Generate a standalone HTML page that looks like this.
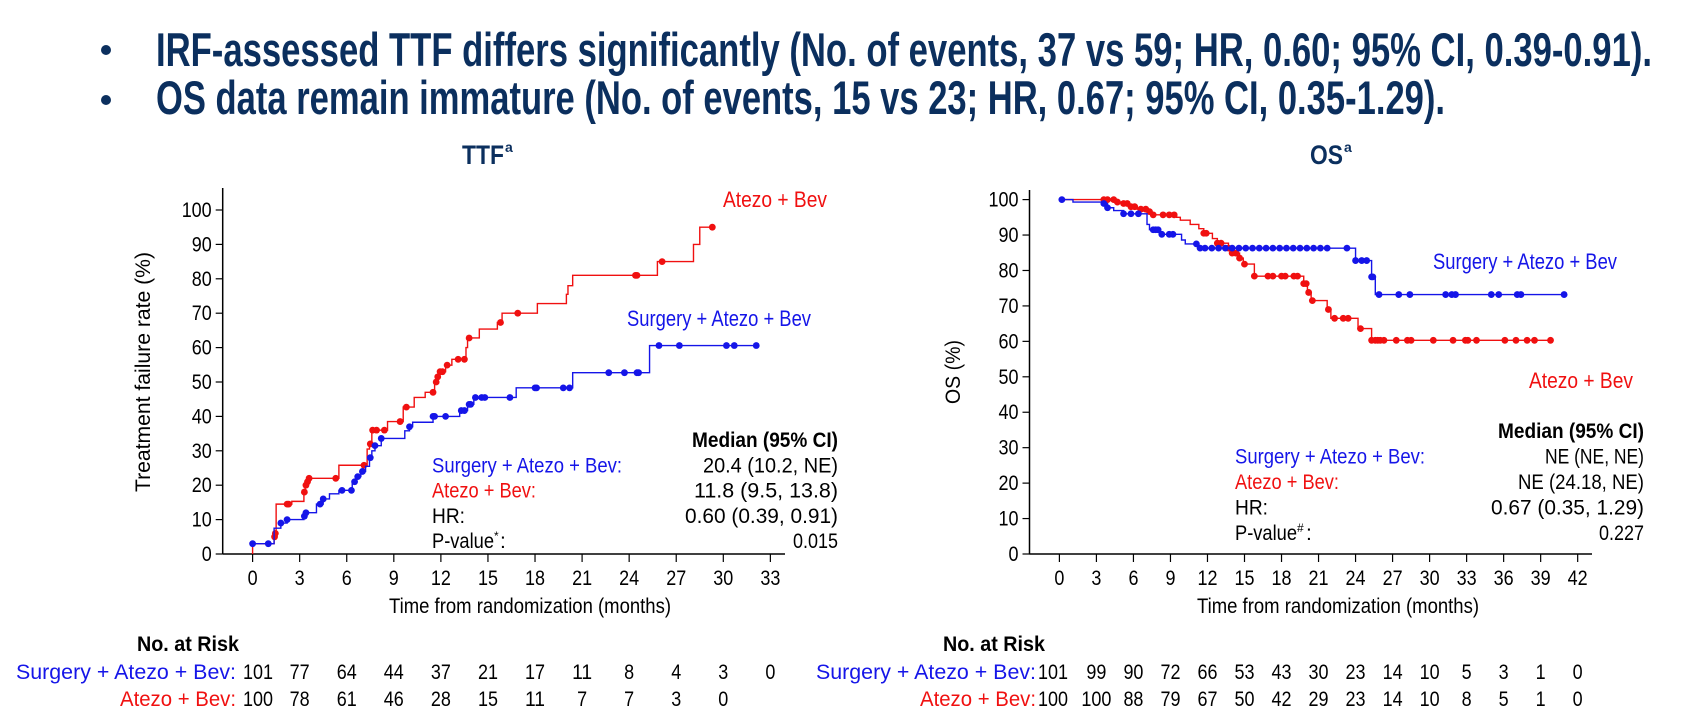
<!DOCTYPE html>
<html><head><meta charset="utf-8"><style>
html,body{margin:0;padding:0;background:#fff;}
svg{display:block;font-family:"Liberation Sans",Arial,sans-serif;}
</style></head><body>
<svg id="s" width="1686" height="710" viewBox="0 0 1686 710" xmlns="http://www.w3.org/2000/svg">
<g fill="#0b2f5e" font-weight="bold">
<circle cx="106" cy="50" r="5"/>
<circle cx="106" cy="100" r="5"/>
<text x="156" y="66" font-size="47" textLength="1496" lengthAdjust="spacingAndGlyphs">IRF-assessed TTF differs significantly (No. of events, 37 vs 59; HR, 0.60; 95% CI, 0.39-0.91).</text>
<text x="156" y="114" font-size="47" textLength="1289" lengthAdjust="spacingAndGlyphs">OS data remain immature (No. of events, 15 vs 23; HR, 0.67; 95% CI, 0.35-1.29).</text>
<text x="462" y="164" font-size="27" textLength="42" lengthAdjust="spacingAndGlyphs">TTF</text>
<text x="505" y="152" font-size="14">a</text>
<text x="1310" y="164" font-size="27" textLength="33" lengthAdjust="spacingAndGlyphs">OS</text>
<text x="1344" y="152" font-size="14">a</text>
</g>
<g id="g"></g>
</svg>
<script>
var NS="http://www.w3.org/2000/svg",G=document.getElementById('g');
function el(t,a,txt){var e=document.createElementNS(NS,t);for(var k in a)e.setAttribute(k,a[k]);if(txt!==undefined)e.textContent=txt;G.appendChild(e);return e;}
function txt(x,y,s,o){o=o||{};var a={x:x,y:y,'font-size':o.fs||18,fill:o.fill||'#000'};if(o.anchor)a['text-anchor']=o.anchor;if(o.w){a.textLength=o.w;a.lengthAdjust='spacingAndGlyphs';}if(o.bold)a['font-weight']='bold';if(o.tr)a.transform=o.tr;return el('text',a,s);}
function chart(c){
 var X=function(t){return c.x0+t*c.dx;},Y=function(v){return c.y0-v*c.dy;};
 el('line',{x1:c.ax,y1:c.top,x2:c.ax,y2:c.y0,stroke:'#000','stroke-width':1.5});
 el('line',{x1:c.ax,y1:c.y0,x2:c.xend,y2:c.y0,stroke:'#000','stroke-width':1.5});
 for(var v=0;v<=100;v+=10){el('line',{x1:c.ax-7,y1:Y(v),x2:c.ax,y2:Y(v),stroke:'#000','stroke-width':1.2});
  txt(c.ax-11,Y(v)+7,String(v),{anchor:'end',fs:21,w:String(v).length*10});}
 for(var t=0;t<=c.tmax;t+=3){el('line',{x1:X(t),y1:c.y0,x2:X(t),y2:c.y0+8,stroke:'#000','stroke-width':1.2});
  txt(X(t),585,String(t),{anchor:'middle',fs:21,w:String(t).length*10});}
 c.series.forEach(function(s){
  var d='M'+X(s.pts[0][0])+' '+Y(s.start),cur=s.start;
  s.pts.forEach(function(p){d+=' L'+X(p[0])+' '+Y(cur)+' L'+X(p[0])+' '+Y(p[1]);cur=p[1];});
  d+=' L'+X(s.end)+' '+Y(cur);
  el('path',{d:d,fill:'none',stroke:s.col,'stroke-width':1.4});
  s.dots.forEach(function(t){var v=s.start;s.pts.forEach(function(p){if(p[0]<=t+1e-9)v=p[1];});
   el('circle',{cx:X(t),cy:Y(v),r:3.4,fill:s.col});});
 });
}
var B='#1515e8',R='#f01010';
chart({ax:222.7,top:188,y0:554,dy:3.44,x0:252.6,dx:15.69,tmax:33,xend:785,series:[
 {col:R,start:0,end:29.3,pts:[[0,3],[1.37,5],[1.42,6],[1.5,14.5],[2.5,15.3],[3.27,18],[3.35,20],[3.45,21],[3.6,22],[5.5,25.8],[7.3,30.5],[7.45,32],[7.6,36],[8.6,38.5],[9.6,42.7],[10.3,45.5],[11,47],[11.6,50],[11.75,51.5],[11.9,53],[12.3,54.9],[12.7,56.6],[13.6,60],[13.7,62.8],[14.45,65.4],[15.6,67.3],[15.9,70],[18.15,72.8],[20,75.5],[20.1,78],[20.4,81],[25.8,85],[28.1,90],[28.5,95]],
  dots:[1.4,1.45,2.2,2.3,3.3,3.4,3.5,3.6,5.3,7.1,7.5,7.65,7.9,8.4,9.4,9.8,11.5,11.7,11.8,11.95,12.1,12.4,13.1,13.5,13.8,15.8,16.9,24.4,24.5,26.1,29.3]},
 {col:B,start:3,end:32.1,pts:[[0,3],[1.37,7.5],[1.8,9],[2.2,10],[3.27,11],[3.35,12],[4.07,14.5],[4.5,16],[4.9,17.5],[5.5,18.5],[6.35,21],[6.6,22.5],[6.9,24],[7.2,25.5],[7.45,28],[7.6,30],[7.8,31.5],[8.2,33.6],[9.7,35.8],[10,37],[10.2,38.3],[11.5,40],[13.2,41.7],[13.7,43.5],[14.1,45.5],[16.8,48.3],[20.4,52.7],[25.3,60.6]],
  dots:[0,1,1.8,2.2,3.3,3.4,4.3,4.5,5.7,6.3,6.5,6.7,7,7.5,7.8,8.2,10,11.5,11.6,12.3,13.3,13.5,13.8,13.9,14.2,14.6,14.8,16.4,18,18.1,19.8,20.2,22.7,23.7,24.5,24.6,25.9,27.2,30.2,30.7,32.1]}
]});
var bd=[0.2,3.6,3.9,5.2,5.8,6.4,7.6,7.8,8,8.3,8.9,9.2,11.1,11.4];for(var t=11.8;t<=21.8;t+=0.55)bd.push(t);bd=bd.concat([23.3,24,24.5,24.9,25.3,25.4,25.9,27.5,28.4,31.3,31.8,32.1,35,35.6,37.1,37.4,40.9]);
chart({ax:1029.5,top:190,y0:554,dy:3.544,x0:1059.4,dx:12.34,tmax:42,xend:1592,series:[
 {col:R,start:100,end:39.8,pts:[[0,100],[4.7,99.3],[5.2,98.9],[5.6,98],[6.3,97.3],[7.2,96.6],[7.5,95.7],[9.5,95],[9.8,94.2],[10.6,93],[11.3,91.8],[11.7,90.5],[12.4,89],[12.8,87.7],[13.7,86.3],[13.9,84.9],[14.6,83.5],[14.9,81.8],[15.8,78.4],[19.8,76.3],[20.1,73.8],[20.4,71.5],[21.7,69],[22,66.5],[24.2,63.6],[25.3,60.3]],
  dots:[3.6,3.9,4.4,4.7,5.2,5.5,5.8,6.1,6.6,7,7.3,7.6,8.4,8.9,9.3,11.7,11.9,12.8,13.1,13.7,14,14.3,14.6,15,15.8,16.9,17.3,18,18.3,19,19.3,19.8,20,20.2,20.5,21.8,22.3,23,23.4,24.4,25.3,25.6,25.8,26,26.3,27.3,28.2,28.5,30.3,31.9,32.9,33.1,33.8,36.1,37,37.9,38.5,39.8]},
 {col:B,start:100,end:40.9,pts:[[0,100],[1.1,99.3],[3.5,98.9],[3.9,97.7],[4.4,96.9],[5.2,96],[7.1,93],[7.3,91.5],[8.1,90.2],[9.9,88.6],[10.2,87.5],[11.3,86.3],[24,82.8],[25.3,78.2],[25.6,73.2]],
  dots:bd}
]});
txt(150,372,'Treatment failure rate (%)',{anchor:'middle',fs:21,w:240,tr:'rotate(-90 150 372)'});
txt(960,372,'OS (%)',{anchor:'middle',fs:21,w:64,tr:'rotate(-90 960 372)'});
txt(530,613,'Time from randomization (months)',{anchor:'middle',fs:21,w:282});
txt(1338,613,'Time from randomization (months)',{anchor:'middle',fs:21,w:282});
txt(723,207,'Atezo + Bev',{fill:R,fs:22,w:104});
txt(627,326,'Surgery + Atezo + Bev',{fill:B,fs:22,w:184});
txt(1433,269,'Surgery + Atezo + Bev',{fill:B,fs:22,w:184});
txt(1529,388,'Atezo + Bev',{fill:R,fs:22,w:104});
function leg(lx,rx,y0,gap,vals,p){
 txt(rx,y0,'Median (95% CI)',{anchor:'end',bold:1,fs:21,w:146});
 txt(lx,y0+gap,'Surgery + Atezo + Bev:',{fill:B,fs:21,w:190});
 txt(lx,y0+2*gap,'Atezo + Bev:',{fill:R,fs:21,w:104});
 txt(lx,y0+3*gap,'HR:',{fs:21,w:33});
 txt(lx,y0+4*gap,'P-value',{fs:21,w:62});
 txt(lx+62,y0+4*gap-8,p,{fs:12});txt(lx+(p=='*'?68:71),y0+4*gap,':',{fs:21});
 for(var i=0;i<4;i++)txt(rx,y0+(i+1)*gap,vals[i],{anchor:'end',fs:21,w:vals[i].length*9});
}
leg(432,838,447,25.3,['20.4 (10.2, NE)','11.8 (9.5, 13.8)','0.60 (0.39, 0.91)','0.015'],'*');
leg(1235,1644,438,25.5,['NE (NE, NE)','NE (24.18, NE)','0.67 (0.35, 1.29)','0.227'],'#');
txt(137,651,'No. at Risk',{bold:1,fs:21,w:102});
txt(943,651,'No. at Risk',{bold:1,fs:21,w:102});
txt(236,679,'Surgery + Atezo + Bev:',{anchor:'end',fs:21,w:220,fill:B});
txt(236,706,'Atezo + Bev:',{anchor:'end',fs:21,w:116,fill:R});
txt(1036,679,'Surgery + Atezo + Bev:',{anchor:'end',fs:21,w:220,fill:B});
txt(1036,706,'Atezo + Bev:',{anchor:'end',fs:21,w:116,fill:R});
function risk(x0,dx,arr,y,first){arr.forEach(function(n,i){var x=i==0?first:x0+i*3*dx;txt(x,y,String(n),{anchor:'middle',fs:21,w:String(n).length*10});});}
risk(252.6,15.69,[101,77,64,44,37,21,17,11,8,4,3,0],679,258);
risk(252.6,15.69,[100,78,61,46,28,15,11,7,7,3,0],706,258);
risk(1059.4,12.34,[101,99,90,72,66,53,43,30,23,14,10,5,3,1,0],679,1053);
risk(1059.4,12.34,[100,100,88,79,67,50,42,29,23,14,10,8,5,1,0],706,1053);
</script>
</body></html>
